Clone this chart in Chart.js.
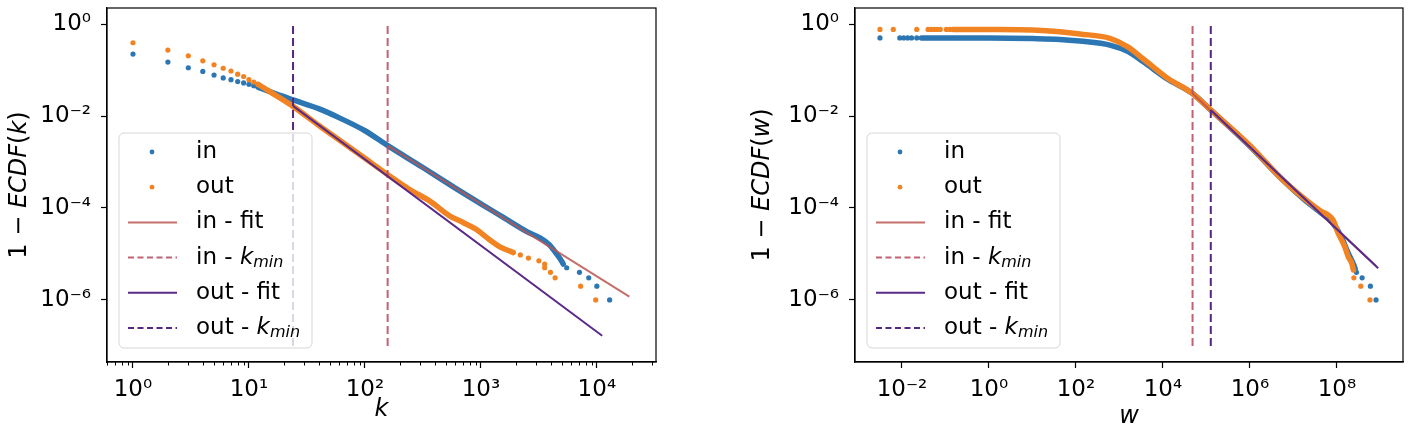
<!DOCTYPE html>
<html><head><meta charset="utf-8">
<script src="https://cdn.jsdelivr.net/npm/chart.js@4.4.1/dist/chart.umd.min.js"></script>
<style>
html,body{margin:0;padding:0;background:#fff;width:1411px;height:431px;overflow:hidden}
#c1{position:absolute;left:0;top:0}
#c2{position:absolute;left:743px;top:0}
</style></head><body>
<canvas id="c1" width="743" height="431"></canvas>
<canvas id="c2" width="668" height="431"></canvas>
<script>
// ---------------- DATA ----------------
// Left panel: degree k. Pairs are [log10 k, log10(1-ECDF)].
const kHeadK      = [1,2,3,4,5,6,7,8,9,10,11,12];
const kInHeadLog  = [-0.652,-0.826,-0.95,-1.03,-1.11,-1.17,-1.21,-1.25,-1.28,-1.31,-1.34,-1.37];
const kOutHeadLog = [-0.406,-0.565,-0.69,-0.80,-0.885,-0.96,-1.02,-1.09,-1.14,-1.21,-1.26,-1.31];
const kInBody  = [[1.079,-1.37],[1.18,-1.47],[1.38,-1.65],[1.6,-1.84],[1.78,-2.04],[2.0,-2.32],[2.2,-2.65],[2.5,-3.12],[2.8,-3.6],[3.0,-3.91],[3.19,-4.20],[3.4,-4.52],[3.51,-4.65],[3.59,-4.80],[3.65,-4.99],[3.70,-5.17],[3.71,-5.22]];
const kOutBody = [[1.079,-1.31],[1.18,-1.47],[1.38,-1.79],[1.6,-2.2],[1.8,-2.56],[2.0,-2.92],[2.2,-3.28],[2.4,-3.62],[2.56,-3.85],[2.73,-4.17],[2.85,-4.32],[2.95,-4.45],[3.08,-4.70],[3.16,-4.84],[3.22,-4.91],[3.28,-4.97]];
const kInTail  = [[3.74,-5.30],[3.85,-5.40],[3.93,-5.52],[4.0,-5.70],[4.11,-6.0]];
const kOutTail = [[3.34,-5.02],[3.41,-5.09],[3.50,-5.15],[3.55,-5.22],[3.55,-5.30],[3.60,-5.40],[3.64,-5.52],[3.86,-5.70],[3.99,-6.0]];
const kInFit  = [[2.196,-2.645],[4.28,-5.93]];
const kOutFit = [[1.38,-1.78],[4.046,-6.78]];
const kMinIn = 157, kMinOut = 24;

// Right panel: weight w. Pairs are [log10 w, log10(1-ECDF)].
const wInHead  = [[-2.506,-0.30],[-2.05,-0.30],[-1.96,-0.30],[-1.87,-0.30],[-1.78,-0.30],[-1.66,-0.30]];
const wOutHead = [[-2.506,-0.115],[-2.2,-0.115],[-1.66,-0.115],[-1.40,-0.115],[-1.33,-0.115],[-1.26,-0.115],[-1.19,-0.115],[-1.12,-0.115],[-0.98,-0.115],[-0.90,-0.115]];
const wInBody  = [[-1.55,-0.30],[0.0,-0.302],[1.0,-0.315],[1.63,-0.333],[2.09,-0.37],[2.78,-0.456],[3.2,-0.60],[3.55,-0.82],[4.08,-1.18],[4.68,-1.51],[5.10,-1.87],[6.0,-2.66],[6.69,-3.33],[7.23,-3.80],[7.6,-4.08],[7.9,-4.32],[8.1,-4.62],[8.25,-4.96],[8.38,-5.22],[8.42,-5.32]];
const wOutBody = [[-0.83,-0.115],[0.0,-0.117],[1.0,-0.13],[1.63,-0.167],[2.09,-0.215],[2.78,-0.31],[3.2,-0.50],[3.55,-0.76],[4.08,-1.16],[4.68,-1.51],[5.10,-1.87],[6.0,-2.64],[6.69,-3.33],[7.23,-3.78],[7.6,-4.05],[7.91,-4.26],[8.03,-4.55],[8.18,-4.84],[8.26,-5.06],[8.34,-5.20],[8.38,-5.35]];
const wInTail  = [[8.45,-5.40],[8.58,-5.52],[8.77,-5.70],[8.90,-6.0]];
const wOutTail = [[8.39,-5.52],[8.55,-5.70],[8.76,-6.0]];
const wInFit  = [[4.68,-1.51],[8.90,-5.26]];
const wOutFit = [[5.10,-1.87],[8.95,-5.31]];
const wMinIn = 4.8e4, wMinOut = 1.26e5;

const kminSpan = [1e-7, 1];
const kTicksX = [1,10,100,1000,10000];
const wTicksX = [1e-2,1,1e2,1e4,1e6,1e8];
const yTicks  = [1e-6,1e-4,1e-2,1];
const legendLabels = ['in','out','in - fit','in - k_min','out - fit','out - k_min'];

// ---------------- STYLE ----------------
const FONT = '"DejaVu Sans", sans-serif';
const BLUE = '#2c76b3', ORANGE = '#f28322';
const RED_FIT = 'rgba(186,86,80,0.85)', RED_KMIN = 'rgba(186,80,100,0.9)';
const PUR_FIT = '#5a2a88', PUR_KMIN = '#55287f';

const toPts = arr => arr.map(([lx,ly]) => ({x: Math.pow(10,lx), y: Math.pow(10,ly)}));
const SUP = {'0':'⁰','1':'¹','2':'²','3':'³','4':'⁴','5':'⁵','6':'⁶','7':'⁷','8':'⁸','9':'⁹','-':'⁻'};
const powLabel = v => '10' + String(Math.round(Math.log10(v))).split('').map(c=>SUP[c]).join('');

function dotsDS(data, color, order){ return {data, showLine:false, pointRadius:2.6, pointBorderWidth:0, pointBackgroundColor:color, backgroundColor:color, borderColor:color, order}; }
function bandDS(data, color, order){ return {data, showLine:true, pointRadius:0, borderWidth:5.5, borderColor:color, borderCapStyle:'round', borderJoinStyle:'round', cubicInterpolationMode:'monotone', order}; }
function lineDS(data, color, order, dash){ return {data, showLine:true, pointRadius:0, borderWidth:2, borderColor:color, borderDash: dash||[], order}; }
function vline(x, color, order){ return lineDS([{x, y:kminSpan[0]},{x, y:kminSpan[1]}], color, order, [8,4]); }

function axis(pos, min, max, ticks, size, pad, title){
  return {
    type:'logarithmic', position:pos, min, max,
    afterBuildTicks: s => { s.ticks = ticks.map(v => ({value:v})); },
    afterFit: s => { if (pos==='bottom') s.height = size; else s.width = size; s.paddingTop=0; s.paddingBottom=0; s.paddingLeft=0; s.paddingRight=0; },
    ticks:{autoSkip:false, maxRotation:0, minRotation:0, padding:pad, color:'#000', font:{family:FONT, size:23}, callback: v => powLabel(v)},
    grid:{display:true, drawOnChartArea:false, drawTicks:true, tickLength:6, tickWidth:1.2, tickColor:'#000'},
    border:{display:true, color:'#000', width:1.2},
    title: title || {display:false}
  };
}

function drawRich(ctx, runs, x, y, size){
  runs.forEach(r => {
    const fs = r.sub ? Math.round(size*0.7) : size;
    ctx.font = (r.i ? 'italic ' : '') + fs + 'px ' + FONT;
    ctx.fillText(r.t, x, y + (r.sub ? size*0.22 : 0));
    x += ctx.measureText(r.t).width;
  });
}
function parseLabel(s){
  const m = s.match(/^(.*?)([A-Za-z])_([A-Za-z]+)$/);
  if (!m) return [{t:s}];
  return [{t:m[1]},{t:m[2], i:true},{t:m[3], i:true, sub:true}];
}
function parseTitle(s){
  return s.match(/[A-Za-z]+|[^A-Za-z]+/g).map(t => ({t, i:/^[A-Za-z]/.test(t)}));
}

const panelPlugin = {
  id:'panel',
  afterDatasetsDraw(chart, args, o){
    const ctx = chart.ctx, a = chart.chartArea;
    ctx.save();
    if (o.minorX){
      const sx = chart.scales.x;
      ctx.strokeStyle='#000'; ctx.lineWidth=1;
      for (let e=-1; e<=5; e++) for (let m=2; m<=9; m++){
        const v = m*Math.pow(10,e);
        if (v < sx.min || v > sx.max) continue;
        const px = Math.round(sx.getPixelForValue(v))+0.5;
        ctx.beginPath(); ctx.moveTo(px, a.bottom); ctx.lineTo(px, a.bottom+3.5); ctx.stroke();
      }
    }
    ctx.strokeStyle='#000'; ctx.lineWidth=1.2;
    ctx.strokeRect(a.left, a.top, a.right-a.left, a.bottom-a.top);
    const x0 = a.left + 12, y0 = 133, w = 193, h = 215, r = 5;
    ctx.beginPath();
    ctx.moveTo(x0+r,y0); ctx.lineTo(x0+w-r,y0); ctx.arcTo(x0+w,y0,x0+w,y0+r,r);
    ctx.lineTo(x0+w,y0+h-r); ctx.arcTo(x0+w,y0+h,x0+w-r,y0+h,r);
    ctx.lineTo(x0+r,y0+h); ctx.arcTo(x0,y0+h,x0,y0+h-r,r);
    ctx.lineTo(x0,y0+r); ctx.arcTo(x0,y0,x0+r,y0,r); ctx.closePath();
    ctx.fillStyle='rgba(255,255,255,0.8)'; ctx.fill();
    ctx.strokeStyle='rgba(204,204,204,0.8)'; ctx.lineWidth=1; ctx.stroke();
    const styles = [
      {kind:'dot', c:BLUE},{kind:'dot', c:ORANGE},
      {kind:'line', c:RED_FIT},{kind:'line', c:RED_KMIN, dash:[6,3.5]},
      {kind:'line', c:PUR_FIT},{kind:'line', c:PUR_KMIN, dash:[6,3.5]}
    ];
    legendLabels.forEach((lab, i) => {
      const y = y0 + 19 + i*35.2, st = styles[i];
      if (st.kind==='dot'){
        ctx.fillStyle = st.c; ctx.beginPath(); ctx.arc(x0+33, y, 2.4, 0, Math.PI*2); ctx.fill();
      } else {
        ctx.strokeStyle = st.c; ctx.lineWidth = 2; ctx.setLineDash(st.dash||[]);
        ctx.beginPath(); ctx.moveTo(x0+9, y); ctx.lineTo(x0+58, y); ctx.stroke(); ctx.setLineDash([]);
      }
      ctx.fillStyle='#000'; ctx.textBaseline='middle'; ctx.textAlign='left';
      drawRich(ctx, parseLabel(lab), x0+77, y, 23);
    });
    ctx.restore();
  },
  afterDraw(chart, args, o){
    const ctx = chart.ctx, a = chart.chartArea;
    ctx.save();
    ctx.translate(o.yTitleX, (a.top+a.bottom)/2);
    ctx.rotate(-Math.PI/2);
    ctx.fillStyle='#000'; ctx.textBaseline='middle'; ctx.textAlign='left';
    const runs = parseTitle(o.yTitle);
    let total = 0;
    runs.forEach(r => { ctx.font=(r.i?'italic ':'')+'24px '+FONT; total += ctx.measureText(r.t).width; });
    drawRich(ctx, runs, -total/2, 0, 24);
    ctx.restore();
  }
};

function makePanel(canvas, p){
  const datasets = [
    dotsDS(p.inHead, BLUE, 10), bandDS(p.inBody, BLUE, 10), dotsDS(p.inTail, BLUE, 10),
    dotsDS(p.outHead, ORANGE, 9), bandDS(p.outBody, ORANGE, 9), dotsDS(p.outTail, ORANGE, 9),
    lineDS(p.inFit, RED_FIT, 8),
    vline(p.kIn, RED_KMIN, 7),
    lineDS(p.outFit, PUR_FIT, 6),
    vline(p.kOut, PUR_KMIN, 5)
  ];
  return new Chart(canvas, {
    type:'scatter',
    data:{datasets},
    options:{
      responsive:false, animation:false, events:[],
      layout:{padding:{top:8, right:p.padRight, bottom:0, left:0}},
      plugins:{legend:{display:false}, tooltip:{enabled:false}, panel:{minorX:p.minorX, yTitle:p.yTitle, yTitleX:20}},
      scales:{
        x: axis('bottom', p.xmin, p.xmax, p.xticks, 69, 8, {display:true, text:p.xTitle, color:'#000', font:{family:FONT, size:24, style:'italic'}, padding:{top:0, bottom:p.xTitlePad}}),
        y: axis('left', Math.pow(10,-7.35), Math.pow(10,0.35), yTicks, p.yWidth, 10)
      }
    },
    plugins:[panelPlugin]
  });
}

makePanel(document.getElementById('c1'), {
  inHead: kHeadK.map((k,i)=>({x:k, y:Math.pow(10,kInHeadLog[i])})),
  outHead: kHeadK.map((k,i)=>({x:k, y:Math.pow(10,kOutHeadLog[i])})),
  inBody: toPts(kInBody), outBody: toPts(kOutBody), inTail: toPts(kInTail), outTail: toPts(kOutTail),
  inFit: toPts(kInFit), outFit: toPts(kOutFit), kIn:kMinIn, kOut:kMinOut,
  xmin: Math.pow(10,-0.224), xmax: Math.pow(10,4.51), xticks:kTicksX,
  yWidth:107, padRight:87, minorX:true, xTitle:'k', xTitlePad:7, yTitle:'1 − ECDF(k)'
});
makePanel(document.getElementById('c2'), {
  inHead: toPts(wInHead), outHead: toPts(wOutHead),
  inBody: toPts(wInBody), outBody: toPts(wOutBody), inTail: toPts(wInTail), outTail: toPts(wOutTail),
  inFit: toPts(wInFit), outFit: toPts(wOutFit), kIn:wMinIn, kOut:wMinOut,
  xmin: Math.pow(10,-3.08), xmax: Math.pow(10,9.52), xticks:wTicksX,
  yWidth:112, padRight:8, minorX:false, xTitle:'w', xTitlePad:0, yTitle:'1 − ECDF(w)'
});
</script>
</body></html>
